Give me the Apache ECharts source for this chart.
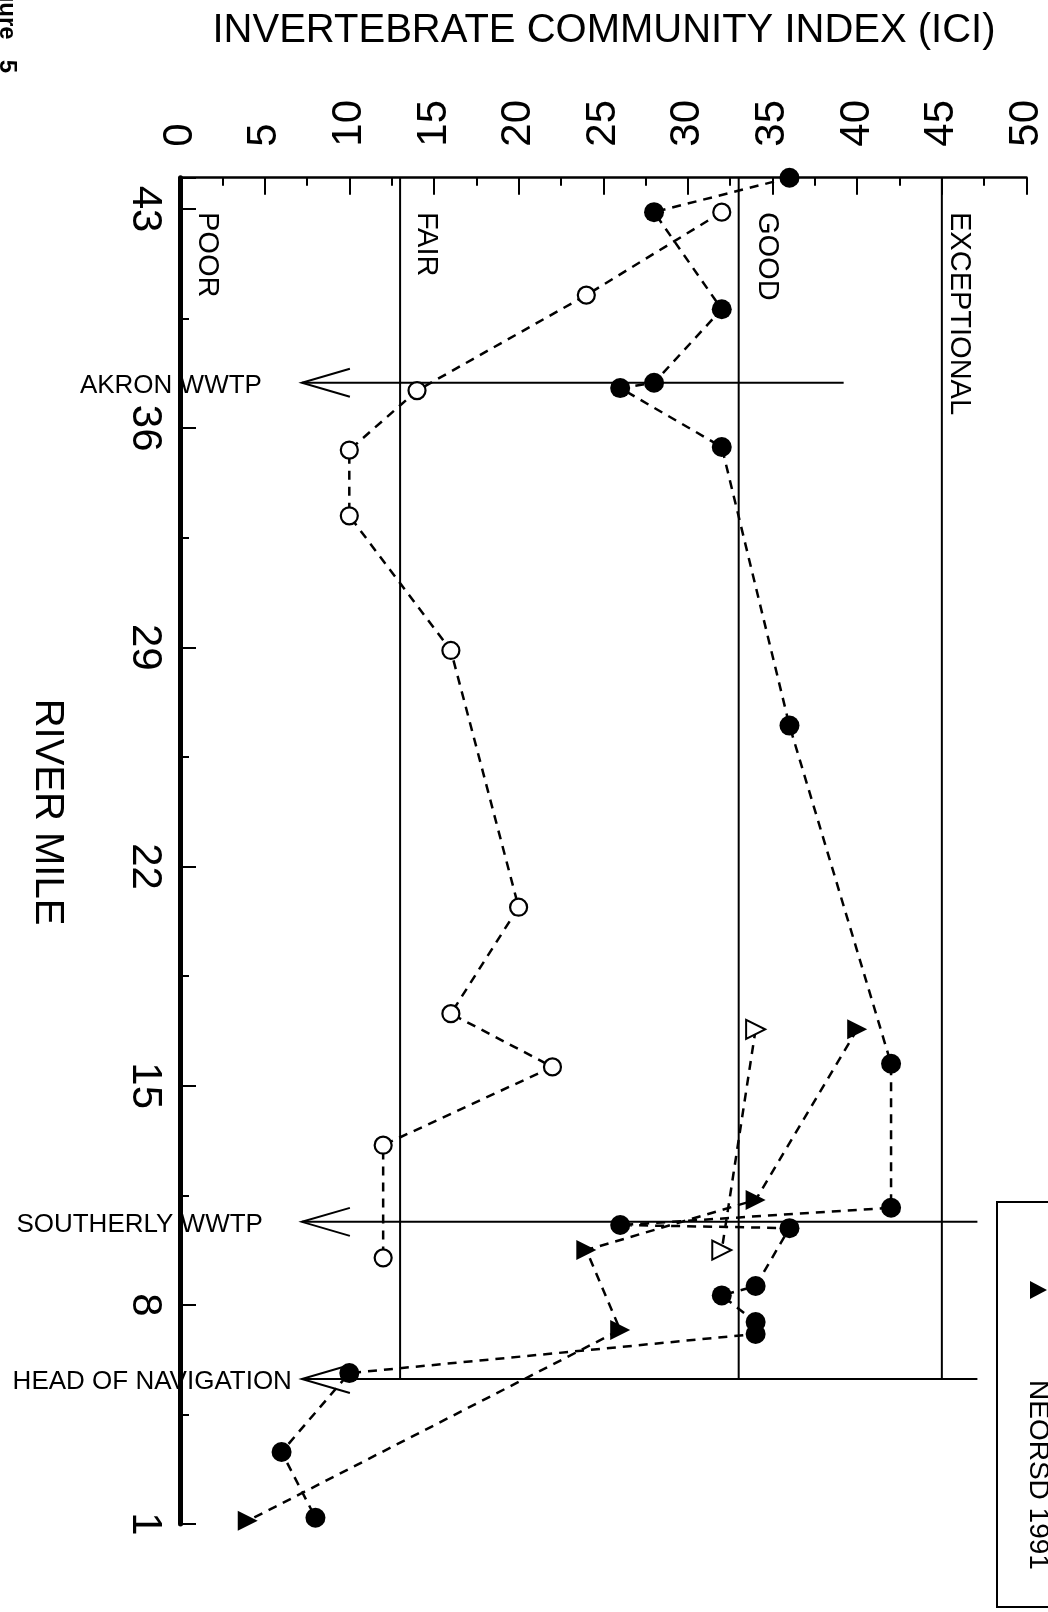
<!DOCTYPE html>
<html>
<head>
<meta charset="utf-8">
<script src="https://cdn.jsdelivr.net/npm/echarts@6/dist/echarts.min.js"></script>
<style>
html,body{margin:0;padding:0;background:#fff;}
#chart{width:1048px;height:1612px;}
</style>
</head>
<body>
<div id="chart"></div>
<script>
// ---------------- data ----------------
// filled circles
const filledCircleMiles = [44, 42.9, 39.8, 37.45, 37.28, 35.4, 26.5, 15.7, 11.1, 10.55, 10.45, 8.6, 8.3, 7.45, 7.07, 5.82, 3.3, 1.2];
const filledCircleIci   = [36, 28, 32, 28, 26, 32, 36, 42, 42, 26, 36, 34, 32, 34, 34, 10, 6, 8];
// open circles
const openCircleMiles = [42.9, 40.25, 37.2, 35.3, 33.2, 28.9, 20.7, 17.3, 15.6, 13.1, 9.5];
const openCircleIci   = [32, 24, 14, 10, 10, 16, 20, 16, 22, 12, 12];
// filled triangles (NEORSD 1991)
const neorsd1991Miles = [16.8, 11.35, 9.75, 7.2, 1.1];
const neorsd1991Ici   = [40, 34, 24, 26, 4];
// open triangles
const openTriangleMiles = [16.8, 9.75];
const openTriangleIci   = [34, 32];

// narrative ranges
const zoneNames  = ['POOR', 'FAIR', 'GOOD', 'EXCEPTIONAL'];
const zoneStarts = [0, 13, 33, 45];

// reference sites
const siteNames = ['AKRON WWTP', 'SOUTHERLY WWTP', 'HEAD OF NAVIGATION'];
const siteMiles = [37.45, 10.65, 5.63];
const siteFrom  = [7.2, 7.2, 7.2];
const siteTo    = [39.2, 47.1, 47.1];

// axes
const iciMin = 0, iciMax = 50, iciStep = 5;
const mileMin = 1, mileMax = 44, mileStep = 7;
const legendLabel = 'NEORSD 1991';

// ---------------- styles ----------------
const FONT = '"Liberation Sans", Arial, sans-serif';
const INK = '#000';
const DASH = [9, 7];
const zoneLabelGap = [12, 11, 14, 3];
const siteLabelGap = [40, 39, 10];

function pairs(miles, ici) { return miles.map((m, i) => [ici[i], m]); }

const chart = echarts.init(document.getElementById('chart'), null, {renderer: 'canvas'});

const lineCommon = {
  type: 'line',
  xAxisIndex: 0, yAxisIndex: 0,
  clip: false,
  animation: false,
  z: 5,
  lineStyle: {color: INK, width: 2.5, type: DASH},
  emphasis: {disabled: true}
};

const option = {
  backgroundColor: '#fff',
  animation: false,
  grid: {left: 180, top: 177.7, right: 21.5, bottom: 88, outerBoundsMode: 'none', containLabel: false},
  xAxis: [{
    type: 'value', position: 'top', min: iciMin, max: iciMax, interval: iciStep,
    axisLine: {show: true, onZero: false, lineStyle: {color: INK, width: 2.5}},
    axisTick: {show: true, inside: true, length: 17, lineStyle: {color: INK, width: 2}},
    minorTick: {show: true, splitNumber: 2, length: 8, lineStyle: {color: INK, width: 2}},
    axisLabel: {show: true, rotate: -90, margin: 31, fontSize: 42, fontFamily: FONT, color: INK},
    splitLine: {show: false}, minorSplitLine: {show: false}
  }],
  yAxis: [{
    type: 'value', position: 'left', min: mileMin, max: mileMax, interval: mileStep,
    axisLine: {show: true, onZero: false, lineStyle: {color: INK, width: 5}},
    axisTick: {show: true, inside: true, length: 16, lineStyle: {color: INK, width: 2}},
    axisLabel: {show: true, rotate: -90, margin: 14, fontSize: 42, fontFamily: FONT, color: INK,
      formatter: v => ((v - mileMin) % mileStep === 0 ? String(v) : '')},
    splitLine: {show: false}
  }, {
    type: 'value', position: 'left', min: mileMin, max: mileMax, interval: mileStep / 2,
    axisLine: {show: false},
    axisTick: {show: true, inside: true, length: 9, lineStyle: {color: INK, width: 2}},
    axisLabel: {show: false},
    splitLine: {show: false}
  }],
  series: [
    // narrative range boundary lines + labels
    {
      type: 'custom', xAxisIndex: 0, yAxisIndex: 0, z: 2, animation: false, silent: true,
      data: zoneStarts.map((v, i) => [v, mileMax, i]),
      renderItem: function (params, api) {
        const v = api.value(0), idx = api.value(2);
        const top = api.coord([v, mileMax]);
        const bot = api.coord([v, siteMiles[2]]);
        const lab = api.coord([v, 43]);
        const children = [];
        if (v > iciMin) {
          children.push({type: 'line', shape: {x1: top[0], y1: top[1], x2: bot[0], y2: bot[1]},
            style: {stroke: INK, lineWidth: 2}});
        }
        children.push({type: 'text', x: lab[0] + zoneLabelGap[idx], y: lab[1] + 3, rotation: -Math.PI / 2,
          style: {text: zoneNames[idx], font: '29px ' + FONT, fill: INK, align: 'left', verticalAlign: 'bottom'}});
        return {type: 'group', children: children};
      }
    },
    // reference site lines with open arrowheads and labels
    {
      type: 'custom', xAxisIndex: 0, yAxisIndex: 0, z: 2, animation: false, silent: true,
      data: siteNames.map((n, i) => [siteFrom[i], siteMiles[i], siteTo[i], i]),
      renderItem: function (params, api) {
        const idx = api.value(3);
        const p1 = api.coord([api.value(0), api.value(1)]);
        const p2 = api.coord([api.value(2), api.value(1)]);
        return {type: 'group', children: [
          {type: 'line', shape: {x1: p1[0], y1: p1[1], x2: p2[0], y2: p2[1]}, style: {stroke: INK, lineWidth: 2}},
          {type: 'polyline', shape: {points: [[p1[0] + 48, p1[1] - 14], [p1[0], p1[1]], [p1[0] + 48, p1[1] + 14]]},
            style: {stroke: INK, lineWidth: 2, fill: null}},
          {type: 'text', x: p1[0] - siteLabelGap[idx], y: p1[1] + 3,
            style: {text: siteNames[idx], font: '26px ' + FONT, fill: INK, align: 'right', verticalAlign: 'middle'}}
        ]};
      }
    },
    Object.assign({}, lineCommon, {
      name: 'filled circles',
      data: pairs(filledCircleMiles, filledCircleIci),
      symbol: 'circle', symbolSize: 20,
      itemStyle: {color: INK}
    }),
    Object.assign({}, lineCommon, {
      name: 'open circles',
      data: pairs(openCircleMiles, openCircleIci),
      symbol: 'circle', symbolSize: 17,
      itemStyle: {color: '#fff', borderColor: INK, borderWidth: 2.2}
    }),
    Object.assign({}, lineCommon, {
      name: legendLabel,
      data: pairs(neorsd1991Miles, neorsd1991Ici),
      symbol: 'triangle', symbolSize: 20, symbolRotate: -90,
      itemStyle: {color: INK}
    }),
    Object.assign({}, lineCommon, {
      name: 'open triangles',
      data: pairs(openTriangleMiles, openTriangleIci),
      symbol: 'triangle', symbolSize: 19, symbolRotate: -90,
      itemStyle: {color: '#fff', borderColor: INK, borderWidth: 2}
    })
  ],
  graphic: [
    {type: 'text', x: 604, y: 31, style: {text: 'INVERTEBRATE COMMUNITY INDEX (ICI)', font: '40px ' + FONT, fill: INK, align: 'center', verticalAlign: 'middle'}},
    {type: 'text', x: 27, y: 812, rotation: -Math.PI / 2, style: {text: 'RIVER MILE', font: '40px ' + FONT, fill: INK, align: 'center', verticalAlign: 'bottom'}},
    {type: 'text', x: -5, y: 73, rotation: -Math.PI / 2, style: {text: 'Figure   5', font: 'bold 24px ' + FONT, fill: INK, align: 'right', verticalAlign: 'bottom'}},
    {type: 'group', children: [
      {type: 'rect', shape: {x: 997, y: 1202, width: 90, height: 405}, style: {fill: '#fff', stroke: INK, lineWidth: 2}},
      {type: 'polygon', shape: {points: [[1030, 1281], [1047, 1290], [1030, 1299]]}, style: {fill: INK}},
      {type: 'text', x: 1024, y: 1380, rotation: -Math.PI / 2, style: {text: legendLabel, font: '28px ' + FONT, fill: INK, align: 'left', verticalAlign: 'bottom'}}
    ]}
  ]
};

chart.setOption(option);
</script>
</body>
</html>
